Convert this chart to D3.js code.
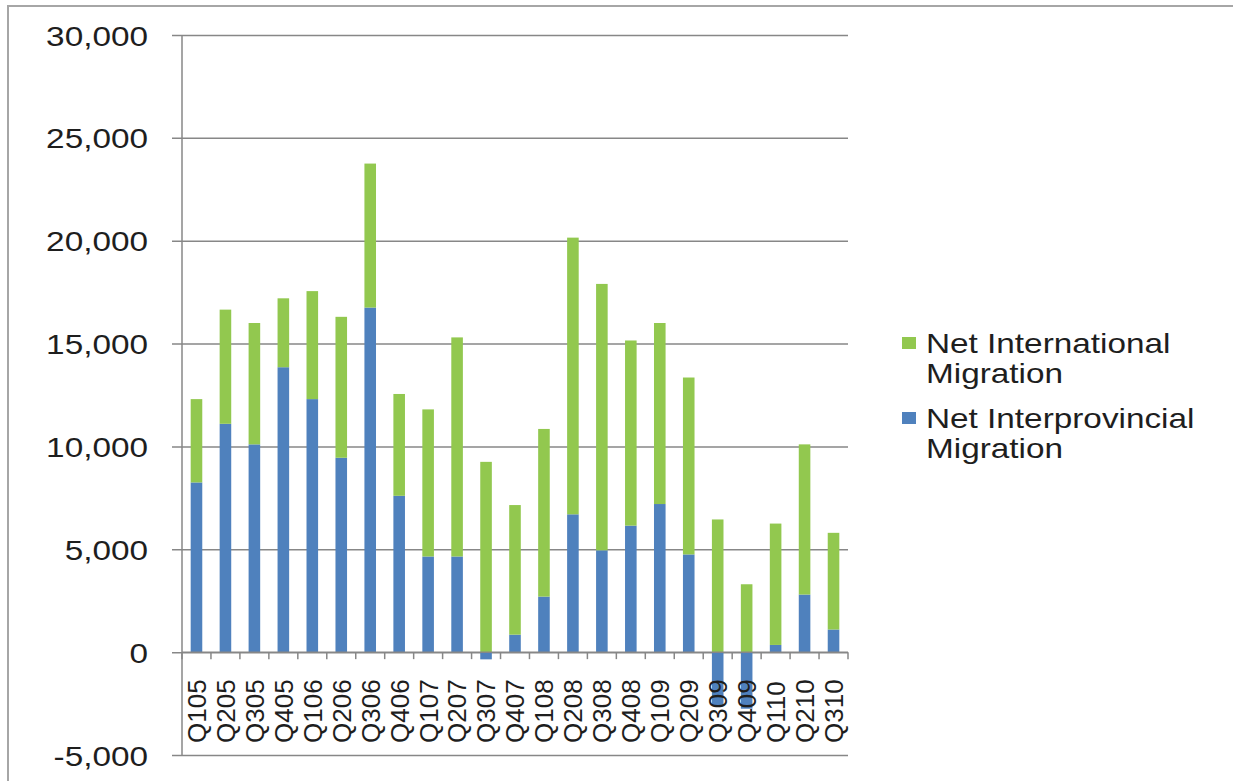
<!DOCTYPE html>
<html>
<head>
<meta charset="utf-8">
<script src="https://cdn.jsdelivr.net/npm/d3@7"></script>
<style>
  body { margin: 0; background: #fff; }
</style>
</head>
<body>
<div id="chart"></div>
<script>
/* Data */
var quarters = ["Q105", "Q205", "Q305", "Q405", "Q106", "Q206", "Q306", "Q406",
                "Q107", "Q207", "Q307", "Q407", "Q108", "Q208", "Q308", "Q408",
                "Q109", "Q209", "Q309", "Q409", "Q110", "Q210", "Q310"];
var interprovincial = [8250, 11100, 10100, 13850, 12300, 9450, 16750, 7600,
                       4650, 4650, -350, 850, 2700, 6700, 4950, 6150,
                       7200, 4750, -2600, -2750, 350, 2800, 1100];
var international = [4050, 5550, 5900, 3350, 5250, 6850, 7000, 4950,
                     7150, 10650, 9250, 6300, 8150, 13450, 12950, 9000,
                     8800, 8600, 6450, 3300, 5900, 7300, 4700];
var yTicks = [-5000, 0, 5000, 10000, 15000, 20000, 25000, 30000];

/* Initial value */
var width = 1233,
    height = 781,
    fontFamily = "'Liberation Sans', Arial, sans-serif",
    textColor = "#1e1e1e",
    stretch = 1.19, // the original text is drawn a bit wide
    gridColor = "#878787",
    green = "#92C84F",
    blue = "#4F81BD";

var svg = d3.select("#chart")
    .append("svg")
    .attr("width", width)
    .attr("height", height);

/* Outer frame (only top and left edges show) */
svg.append("path")
    .attr("d", "M8," + height + "V6H" + width)
    .attr("fill", "none")
    .attr("stroke", "#a6a6a6")
    .attr("stroke-width", 2);

var x = d3.scaleBand()
    .domain(quarters)
    .range([182, 848])
    .paddingInner(0.6)
    .paddingOuter(0.3);

var y = d3.scaleLinear()
    .domain([-5000, 30000])
    .range([755, 35]);

var fmt = d3.format(",");

/* Gridlines + y labels */
var yAxis = d3.axisLeft(y)
    .tickValues(yTicks)
    .tickSize(-(848 - 182))
    .tickPadding(0)
    .tickFormat(function(d) { return fmt(d).replace("\u2212", "-"); });

var gy = svg.append("g")
    .attr("transform", "translate(182,0)")
    .call(yAxis);
gy.select(".domain").remove();
gy.selectAll(".tick line")
    .attr("x1", -10)
    .attr("stroke", gridColor)
    .attr("stroke-width", 1.5);
gy.selectAll(".tick text")
    .attr("transform", "scale(" + stretch + ",1)")
    .attr("x", -34 / stretch)
    .attr("dy", "0.36em")
    .attr("font-size", 28)
    .attr("font-family", fontFamily)
    .attr("fill", textColor);

/* Stacked bars */
var rows = quarters.map(function(q, i) {
    return { q: q, inter: interprovincial[i], intl: international[i] };
});
var stack = d3.stack()
    .keys(["inter", "intl"])
    .offset(d3.stackOffsetDiverging);
var layers = stack(rows);
var colors = { inter: blue, intl: green };

svg.selectAll("g.layer")
    .data(layers)
    .enter().append("g")
    .attr("class", "layer")
    .attr("fill", function(d) { return colors[d.key]; })
    .selectAll("rect")
    .data(function(d) { return d; })
    .enter().append("rect")
    .attr("x", function(d) { return x(d.data.q); })
    .attr("width", x.bandwidth())
    .attr("y", function(d) { return y(d[1]); })
    .attr("height", function(d) { return y(d[0]) - y(d[1]); });

/* Y axis line */
svg.append("line")
    .attr("x1", 182).attr("x2", 182)
    .attr("y1", y(30000)).attr("y2", y(-5000))
    .attr("stroke", gridColor)
    .attr("stroke-width", 1.5);

/* X axis on zero with ticks between categories */
var step = x.step();
var boundaries = d3.range(quarters.length + 1).map(function(i) { return 182 + i * step; });

svg.append("line")
    .attr("x1", 182).attr("x2", 848)
    .attr("y1", y(0)).attr("y2", y(0))
    .attr("stroke", gridColor)
    .attr("stroke-width", 1.5);

svg.selectAll("line.xtick")
    .data(boundaries)
    .enter().append("line")
    .attr("class", "xtick")
    .attr("x1", function(d) { return d; })
    .attr("x2", function(d) { return d; })
    .attr("y1", y(0))
    .attr("y2", y(0) + 7)
    .attr("stroke", gridColor)
    .attr("stroke-width", 1.5);

svg.selectAll("text.xlabel")
    .data(quarters)
    .enter().append("text")
    .attr("class", "xlabel")
    .attr("transform", function(d) {
        return "translate(" + (x(d) + x.bandwidth() / 2) + ",743) rotate(-90)";
    })
    .attr("text-anchor", "start")
    .attr("dy", "0.36em")
    .attr("font-size", 26)
    .attr("font-family", fontFamily)
    .attr("fill", textColor)
    .text(function(d) { return d; });

/* Legend */
var legendItems = [
    { color: green, lines: ["Net International", "Migration"], base: 353 },
    { color: blue, lines: ["Net Interprovincial", "Migration"], base: 428 }
];

legendItems.forEach(function(item) {
    svg.append("rect")
        .attr("x", 902)
        .attr("y", item.base - 16)
        .attr("width", 14)
        .attr("height", 12)
        .attr("fill", item.color);
    item.lines.forEach(function(t, i) {
        svg.append("text")
            .attr("transform", "translate(926," + (item.base + i * 30) + ") scale(" + stretch + ",1)")
            .attr("font-size", 28)
            .attr("font-family", fontFamily)
            .attr("fill", textColor)
            .text(t);
    });
});
</script>
</body>
</html>
